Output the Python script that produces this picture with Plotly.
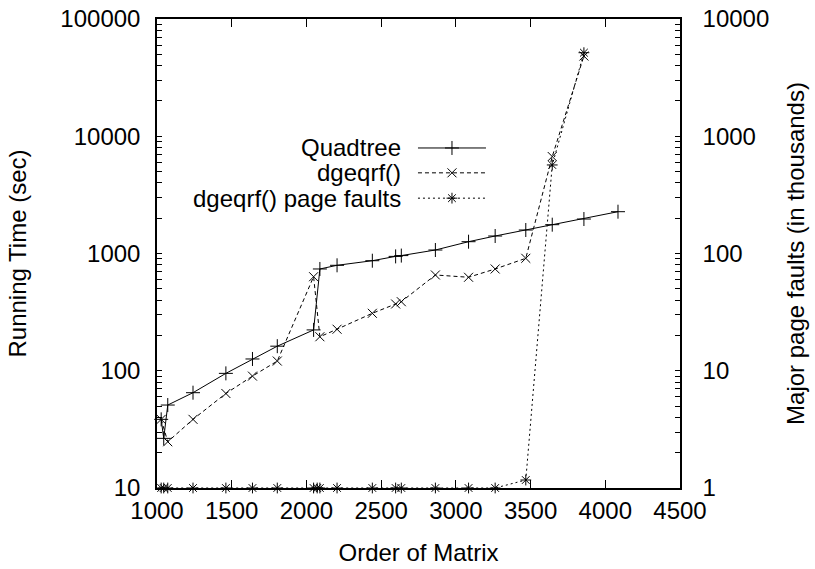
import plotly.graph_objects as go

# Matrix orders and measured running times (seconds)
quad_order = [1028, 1045, 1072, 1241, 1461, 1639, 1805, 2048, 2090, 2205, 2441,
              2597, 2635, 2863, 3085, 3263, 3468, 3645, 3857, 4085]
quad_time = [38.5, 26.5, 51, 65, 95, 126, 162, 223, 738, 793, 868,
             945, 960, 1071, 1261, 1410, 1586, 1761, 1968, 2273]

dgeqrf_order = [1028, 1072, 1241, 1461, 1639, 1805, 2048, 2090, 2205, 2441,
                2597, 2635, 2863, 3085, 3263, 3468, 3645, 3857]
dgeqrf_time = [38.5, 24.8, 38.5, 64, 90, 121, 634, 195, 226, 309,
               371, 388, 656, 627, 738, 910, 6714, 48340]

# Major page faults of dgeqrf(), in thousands
pf_order = [1028, 1045, 1072, 1241, 1461, 1639, 1805, 2048, 2072, 2090, 2205,
            2441, 2597, 2635, 2863, 3085, 3263, 3468, 3645, 3857]
pf_thousands = [1, 1, 1, 1, 1, 1, 1, 1, 1, 1, 1,
                1, 1, 1, 1, 1, 1, 1.17, 569, 5160]

x_ticks = [1000, 1500, 2000, 2500, 3000, 3500, 4000, 4500]
left_decades = [10, 100, 1000, 10000, 100000]
right_decades = [1, 10, 100, 1000, 10000]

series_names = ["Quadtree", "dgeqrf()", "dgeqrf() page faults"]

FONT = "Liberation Sans"
BLACK = "#000000"

styles = [
    dict(dash="solid", symbol="cross-thin", size=10),
    dict(dash="4px,3px", symbol="x-thin", size=9),
    dict(dash="2px,3px", symbol="asterisk-open", size=9),
]


def log_ticks(decades):
    """All 1..9 sub-decade positions, labelled only at the decades."""
    vals, text = [], []
    for d in decades[:-1]:
        for m in range(1, 10):
            vals.append(m * d)
            text.append(str(d) if m == 1 else "")
    vals.append(decades[-1])
    text.append(str(decades[-1]))
    return vals, text


left_vals, left_text = log_ticks(left_decades)
right_vals, right_text = log_ticks(right_decades)

fig = go.Figure()

fig.add_trace(go.Scatter(
    x=quad_order, y=quad_time, mode="lines+markers", name=series_names[0],
    line=dict(color=BLACK, width=1, dash=styles[0]["dash"]),
    marker=dict(symbol=styles[0]["symbol"], size=styles[0]["size"],
                line=dict(color=BLACK, width=1)),
    cliponaxis=False, showlegend=False))

fig.add_trace(go.Scatter(
    x=dgeqrf_order, y=dgeqrf_time, mode="lines+markers", name=series_names[1],
    line=dict(color=BLACK, width=1, dash=styles[1]["dash"]),
    marker=dict(symbol=styles[1]["symbol"], size=styles[1]["size"],
                line=dict(color=BLACK, width=1)),
    cliponaxis=False, showlegend=False))

fig.add_trace(go.Scatter(
    x=pf_order, y=pf_thousands, mode="lines+markers", name=series_names[2],
    yaxis="y2",
    line=dict(color=BLACK, width=1, dash=styles[2]["dash"]),
    marker=dict(symbol=styles[2]["symbol"], size=styles[2]["size"],
                line=dict(color=BLACK, width=1)),
    cliponaxis=False, showlegend=False))

# Key drawn inside the plot: label on the left, line sample on the right
key_rows = [0.725, 0.672, 0.618]
key_x0, key_x1, key_text_x = 0.499, 0.629, 0.468
annotations = []
for name, st, ky in zip(series_names, styles, key_rows):
    fig.add_trace(go.Scatter(
        x=[key_x0, key_x1], y=[ky, ky],
        xaxis="x3", yaxis="y3", mode="lines", showlegend=False,
        hoverinfo="skip",
        line=dict(color=BLACK, width=1, dash=st["dash"])))
    fig.add_trace(go.Scatter(
        x=[(key_x0 + key_x1) / 2], y=[ky],
        xaxis="x3", yaxis="y3", mode="markers", showlegend=False,
        hoverinfo="skip",
        marker=dict(symbol=st["symbol"], size=st["size"], color=BLACK,
                    line=dict(color=BLACK, width=1))))
    annotations.append(dict(
        x=key_text_x, y=ky, xref="paper", yref="paper", text=name,
        showarrow=False, xanchor="right", yanchor="middle", borderpad=0,
        font=dict(family=FONT, size=24, color=BLACK)))

axis_common = dict(
    showgrid=False, zeroline=False, showline=True, linecolor=BLACK,
    linewidth=1.5, ticks="inside", tickcolor=BLACK, tickwidth=1,
    tickfont=dict(family=FONT, size=24, color=BLACK),
)

# Longer marks at each decade, overlaid on the short sub-decade marks
decade_marks = dict(
    showgrid=False, zeroline=False, showline=False, ticks="inside",
    tickcolor=BLACK, tickwidth=1, ticklen=8, showticklabels=False,
    anchor="x", overlaying="y",
)

fig.update_layout(
    width=815, height=569,
    margin=dict(l=157, r=135, t=19, b=81, autoexpand=False),
    paper_bgcolor="white", plot_bgcolor="white",
    font=dict(family=FONT, color=BLACK),
    annotations=annotations,
    xaxis=dict(
        **axis_common, range=[1000, 4500], tickvals=x_ticks,
        ticklen=8, mirror="ticks",
        title=dict(text="Order of Matrix", font=dict(family=FONT, size=24),
                   standoff=22),
    ),
    yaxis=dict(
        **axis_common, type="log", range=[1, 5], tickvals=left_vals,
        ticktext=left_text, ticklen=5, mirror=True, ticklabelstandoff=10,
        title=dict(text="Running Time (sec)", font=dict(family=FONT, size=24),
                   standoff=27),
    ),
    yaxis2=dict(
        **axis_common, type="log", range=[0, 4], tickvals=right_vals,
        ticktext=right_text, ticklen=5,
        overlaying="y", side="right", ticklabelstandoff=16,
        title=dict(text="Major page faults (in thousands)",
                   font=dict(family=FONT, size=24), standoff=19),
    ),
    yaxis4=dict(**decade_marks, type="log", range=[1, 5],
                tickvals=left_decades, side="left"),
    yaxis5=dict(**decade_marks, type="log", range=[0, 4],
                tickvals=right_decades, side="right"),
    xaxis3=dict(domain=[0, 1], range=[0, 1], visible=False, overlaying="x"),
    yaxis3=dict(domain=[0, 1], range=[0, 1], visible=False, overlaying="y",
                anchor="x3"),
)

fig.write_html("out.html")
